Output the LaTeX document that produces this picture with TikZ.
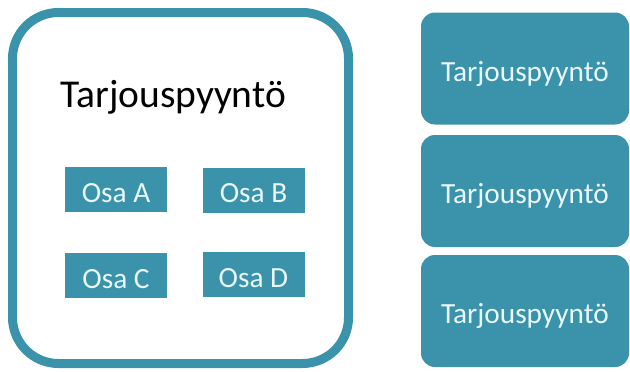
\documentclass[tikz,border=0pt]{standalone}
\usepackage{fontspec}
\setmainfont{Carlito}
\definecolor{teal1}{HTML}{3B92AB}
\definecolor{lighttext}{HTML}{E8F8FB}
\begin{document}
\begin{tikzpicture}[x=1pt,y=-1pt,
  osabox/.style={fill=teal1,minimum width=102pt,minimum height=45pt,inner sep=0pt,text height=25pt,text depth=0pt,text=lighttext,font=\fontsize{29.3}{31}\selectfont},
  reqbox/.style={fill=teal1,rounded corners=14pt,minimum width=208pt,minimum height=112pt,inner sep=0pt,text height=25pt,text depth=0pt,text=lighttext,font=\fontsize{29.3}{31}\selectfont}]
\useasboundingbox (0,0) rectangle (630,372);
\draw[teal1,line width=9pt,rounded corners=46pt] (12.5,12.5) rectangle (348.5,363.5);
\node[font=\fontsize{39.5}{41}\selectfont,anchor=base west,inner sep=0pt] (title) at (60,107) {Tarjouspyyntö};
\node[osabox] (a) at (116,189.5) {Osa A};
\node[osabox] (b) at (253.5,190) {Osa B};
\node[osabox] (c) at (116,275.5) {Osa C};
\node[osabox] (d) at (253.5,274.5) {Osa D};
\node[reqbox] (r1) at (525,68.5) {Tarjouspyyntö};
\node[reqbox] (r2) at (525,191) {Tarjouspyyntö};
\node[reqbox] (r3) at (525,311) {Tarjouspyyntö};
\end{tikzpicture}
\end{document}
